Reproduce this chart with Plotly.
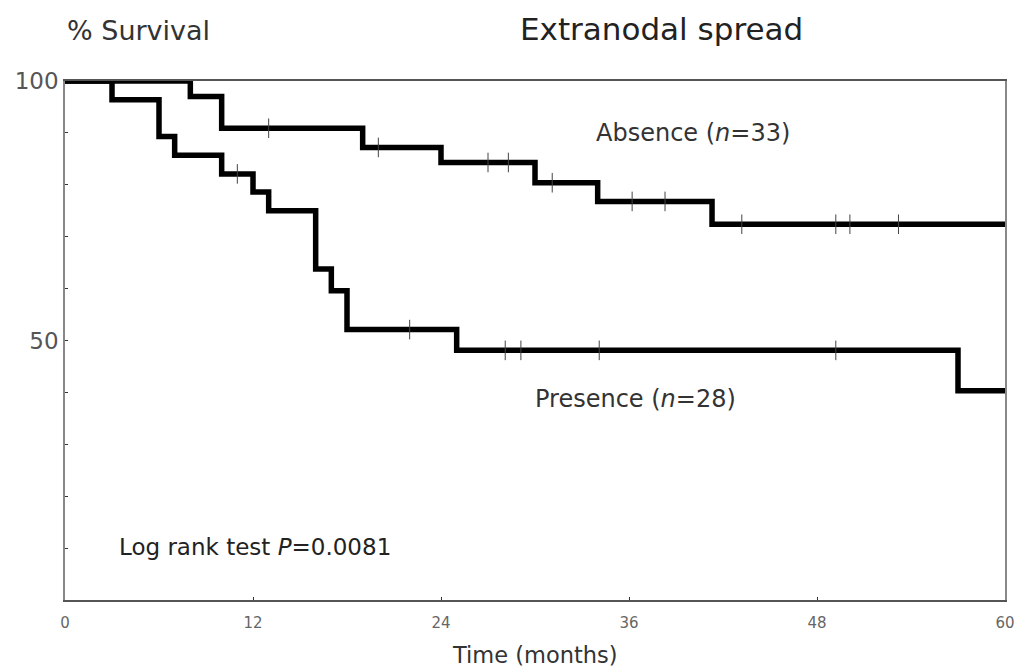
import plotly.graph_objects as go
import numpy as np

# Kaplan-Meier step data (time in months, survival %)
absence_times = [0, 8, 10, 19, 24, 30, 34, 41.3, 60]
absence_surv = [100, 97.0, 90.9, 87.2, 84.3, 80.4, 76.8, 72.4, 72.4]
absence_censor = [13, 20, 27, 28.3, 31.1, 36.2, 38.3, 43.2, 49.2, 50.1, 53.2]

presence_times = [0, 3, 6, 7, 10, 12, 13, 16, 17, 18, 25, 57, 60]
presence_surv = [100, 96.4, 89.3, 85.7, 82.1, 78.6, 75.0, 63.8, 59.6, 52.1, 48.1, 40.3, 40.3]
presence_censor = [11, 22, 28.1, 29.1, 34.1, 49.2]

x_ticks = [0, 12, 24, 36, 48, 60]
y_ticks = [50, 100]
y_minor = [10, 20, 30, 40, 60, 70, 80, 90]


def step_value(times, surv, t):
    idx = np.searchsorted(times, t, side="right") - 1
    return surv[idx]


fig = go.Figure()
for times, surv, cens in [(absence_times, absence_surv, absence_censor),
                          (presence_times, presence_surv, presence_censor)]:
    fig.add_trace(go.Scatter(x=times, y=surv, mode="lines", line_shape="hv",
                             line=dict(color="black", width=5.5), showlegend=False,
                             hoverinfo="skip"))
    fig.add_trace(go.Scatter(x=cens, y=[step_value(times, surv, c) for c in cens],
                             mode="markers", showlegend=False,
                             marker=dict(symbol="line-ns", size=14,
                                         line=dict(color="#444", width=1))))

font = "DejaVu Sans, sans-serif"
fig.update_layout(
    width=1016, height=669,
    margin=dict(l=65, r=11, t=81, b=69),
    paper_bgcolor="white", plot_bgcolor="white",
    font=dict(family=font, color="#333"),
)
fig.update_xaxes(range=[0, 60], tickvals=x_ticks, ticks="inside", ticklen=3,
                 tickcolor="#333", tickfont=dict(size=15, color="#666"),
                 ticklabelstandoff=8, automargin=False,
                 showgrid=False, zeroline=False, showline=True, linecolor="#555",
                 linewidth=1.5, mirror=True)
fig.update_yaxes(range=[0, 100], tickvals=y_ticks, ticks="inside", ticklen=3,
                 tickcolor="#333", tickfont=dict(size=23, color="#555"),
                 automargin=False,
                 showgrid=False, zeroline=False, showline=True, linecolor="#888",
                 linewidth=1.5, mirror=True,
                 minor=dict(tickvals=y_minor, ticks="inside", ticklen=3,
                            tickcolor="#333"))

fig.add_annotation(text="% Survival", xref="paper", yref="paper", x=0, y=1,
                   xanchor="left", yanchor="middle", yshift=51, showarrow=False,
                   font=dict(size=27, color="#333"))
fig.add_annotation(text="Extranodal spread", xref="paper", yref="paper", x=0.635,
                   y=1, xanchor="center", yanchor="middle", yshift=52,
                   showarrow=False, font=dict(size=31, color="#222"))
fig.add_annotation(text="Time (months)", xref="paper", yref="paper", x=0.5,
                   y=0, xanchor="center", yanchor="middle", yshift=-55,
                   showarrow=False, font=dict(size=22.5, color="#333"))
fig.add_annotation(text="Absence (<i>n</i>=33)", x=40.1, y=90.0, xanchor="center",
                   showarrow=False, font=dict(size=24, color="#333"))
fig.add_annotation(text="Presence (<i>n</i>=28)", x=36.4, y=38.7, xanchor="center",
                   showarrow=False, font=dict(size=24, color="#333"))
fig.add_annotation(text="Log rank test <i>P</i>=0.0081", x=3.3, y=10.2,
                   xanchor="left", showarrow=False, font=dict(size=23, color="#222"))

fig.write_html("out.html", config={"displayModeBar": False},
               post_script="document.body.style.margin='0';")
